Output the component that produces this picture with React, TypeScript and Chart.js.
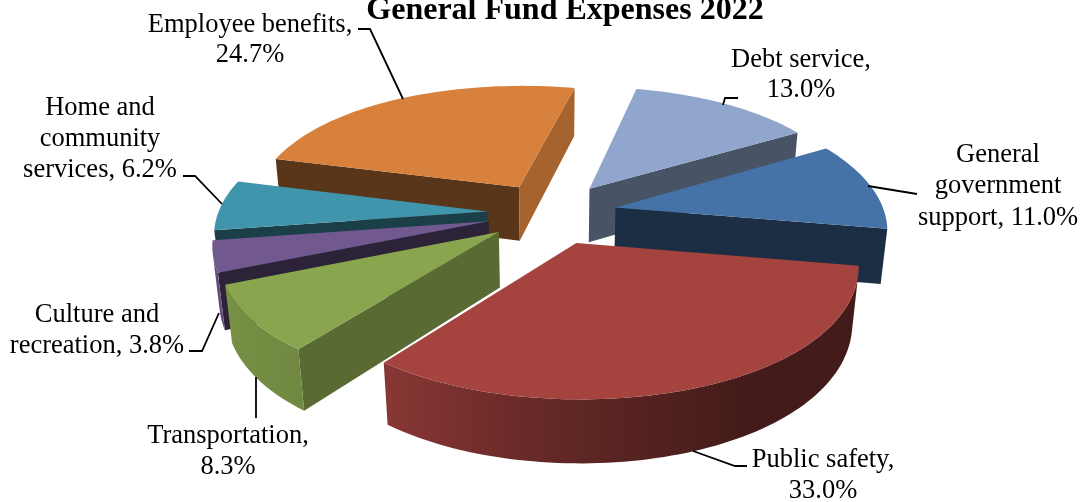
import React, { useEffect, useRef } from "react";
import { Chart, registerables } from "chart.js";

Chart.register(...registerables);

const chartTitle = "General Fund Expenses 2022";
const categories = [
  "Debt service",
  "General government support",
  "Public safety",
  "Transportation",
  "Culture and recreation",
  "Home and community services",
  "Employee benefits",
];
const shares = [13.0, 11.0, 33.0, 8.3, 3.8, 6.2, 24.7];
const sliceColors = ["#90A6CC", "#4572A7", "#A5433F", "#89A54E", "#71588F", "#4095AD", "#D8813C"];
// Brightness of the wall that runs along a slice's straight leading and trailing edges.
const startWallShade = [0.5, 0.4, 0.4, 0.65, 0.4, 0.42, 0.41];
const endWallShade = [0.5, 0.4, 0.4, 0.65, 0.4, 0.42, 0.77];
// Where each category's text breaks onto a new line.
const labelBreaks = [
  ["Debt service,"],
  ["General", "government", "support,"],
  ["Public safety,"],
  ["Transportation,"],
  ["Culture and", "recreation,"],
  ["Home and", "community", "services,"],
  ["Employee benefits,"],
];
const valueOnOwnLine = [true, false, true, true, false, false, true];

// Text anchor per label: centre x, centre y of the first line, line gap.
const labelAnchors = [
  [801, 60, 30.5],
  [998, 155, 31.5],
  [823, 460, 31],
  [228, 436, 31],
  [97, 315, 31],
  [100, 108, 31],
  [250, 25, 30.5],
];
const leaderLines = [
  [[723, 105], [725, 98], [738, 98]],
  [[868, 186], [917, 194]],
  [[693, 451], [735, 466], [747, 466]],
  [[256, 377], [256, 418]],
  [[219, 313], [202, 351], [189, 351]],
  [[222, 204], [195, 176], [183, 176]],
  [[403, 99], [370, 29], [358, 29]],
];

const FONT_FAMILY = '"Liberation Serif", "Times New Roman", serif';
const PLANE_RADIUS = 269;
const TILT = 0.478;
const VIEW_DISTANCE = 1800;
const TILT_FALLOFF = 1800;
const THICKNESS = 55.5;
const BASE_SHRINK = 0.02;

// Rim brightness by clockwise angle from 12 o'clock, in degrees.
const rimStops: [number, number][] = [
  [90, 0.4], [150, 0.41], [180, 0.57], [216, 0.82], [246, 0.88], [300, 0.7],
];

function rimShade(deg: number) {
  const d = ((deg % 360) + 360) % 360;
  if (d <= rimStops[0][0]) return rimStops[0][1];
  for (let i = 1; i < rimStops.length; i++) {
    if (d <= rimStops[i][0]) {
      const [a, sa] = rimStops[i - 1];
      const [b, sb] = rimStops[i];
      return sa + ((sb - sa) * (d - a)) / (b - a);
    }
  }
  return rimStops[rimStops.length - 1][1];
}

function shadeColor(hex: string, f: number) {
  const n = parseInt(hex.slice(1), 16);
  const c = [(n >> 16) & 255, (n >> 8) & 255, n & 255].map((x) => Math.round(x * f));
  return `rgb(${c[0]},${c[1]},${c[2]})`;
}

type Pt = [number, number];

const tiltedPie = {
  id: "tiltedPie",
  beforeDatasetDraw(chart: any, args: any) {
    const ctx: CanvasRenderingContext2D = chart.ctx;
    const arcs: any[] = args.meta.data;
    const project = (cx: number, cy: number, u: number, v: number, z: number): Pt => {
      const s = 1 / (1 + v / VIEW_DISTANCE + z * BASE_SHRINK);
      return [cx + u * s, cy - v * TILT * (1 - v / TILT_FALLOFF) + z * THICKNESS * Math.pow(s, 0.8)];
    };
    const fillPoly = (pts: Pt[], color: string | CanvasGradient) => {
      ctx.beginPath();
      pts.forEach((p, i) => (i ? ctx.lineTo(p[0], p[1]) : ctx.moveTo(p[0], p[1])));
      ctx.closePath();
      ctx.fillStyle = color;
      ctx.fill();
    };
    const signedArea = (q: Pt[]) => {
      let area = 0;
      q.forEach((p, i) => {
        const n = q[(i + 1) % q.length];
        area += p[0] * n[1] - n[0] * p[1];
      });
      return area;
    };

    // Back slices first, so that nearer slices cover them.
    const order = arcs
      .map((arc, i) => ({ arc, i, mid: (arc.startAngle + arc.endAngle) / 2 }))
      .sort((a, b) => Math.sin(a.mid) - Math.sin(b.mid));

    order.forEach(({ arc, i, mid }) => {
      const color = sliceColors[i];
      const off = arc.options.offset;
      const ax = Math.cos(mid) * off;
      const ay = -Math.sin(mid) * off;
      const rim = (a: number, z: number) =>
        project(arc.x, arc.y, ax + Math.cos(a) * PLANE_RADIUS, ay - Math.sin(a) * PLANE_RADIUS, z);
      const apex = (z: number) => project(arc.x, arc.y, ax, ay, z);

      // Straight walls along both radii: culled when turned away.
      const startWall: Pt[] = [apex(0), apex(1), rim(arc.startAngle, 1), rim(arc.startAngle, 0)];
      const endWall: Pt[] = [rim(arc.endAngle, 0), rim(arc.endAngle, 1), apex(1), apex(0)];
      if (signedArea(startWall) > 0) fillPoly(startWall, shadeColor(color, startWallShade[i]));
      if (signedArea(endWall) > 0) fillPoly(endWall, shadeColor(color, endWallShade[i]));

      // The visible stretch of the outer rim, shaded across its width.
      const steps = Math.max(2, Math.ceil(((arc.endAngle - arc.startAngle) * 180) / Math.PI / 1.5));
      const angleAt = (k: number) => arc.startAngle + ((arc.endAngle - arc.startAngle) * k) / steps;
      const visible: number[] = [];
      for (let k = 0; k <= steps; k++) {
        const strip: Pt[] = [rim(angleAt(k), 0), rim(angleAt(k + 1), 0), rim(angleAt(k + 1), 1), rim(angleAt(k), 1)];
        if (signedArea(strip) < 0 && k < steps) visible.push(k);
      }
      if (visible.length) {
        const ks = [...visible, visible[visible.length - 1] + 1];
        const topEdge = ks.map((k) => rim(angleAt(k), 0));
        const baseEdge = ks.map((k) => rim(angleAt(k), 1));
        const x0 = Math.min(...topEdge.map((p) => p[0]));
        const x1 = Math.max(...topEdge.map((p) => p[0]));
        const gradient = ctx.createLinearGradient(x0, 0, Math.max(x1, x0 + 1), 0);
        topEdge.forEach((p, n) => {
          const t = Math.min(1, Math.max(0, (p[0] - x0) / Math.max(x1 - x0, 1)));
          const deg = ((angleAt(ks[n]) + Math.PI / 2) * 180) / Math.PI;
          gradient.addColorStop(t, shadeColor(color, rimShade(deg)));
        });
        fillPoly([...topEdge, ...baseEdge.reverse()], gradient);
      }

      // Top face.
      const top: Pt[] = [apex(0)];
      for (let k = 0; k <= steps; k++) top.push(rim(angleAt(k), 0));
      fillPoly(top, color);
    });
    return false;
  },
  afterDraw(chart: any) {
    const ctx: CanvasRenderingContext2D = chart.ctx;
    ctx.save();
    ctx.textAlign = "center";
    ctx.textBaseline = "alphabetic";
    ctx.fillStyle = "#000";
    ctx.font = `bold 32px ${FONT_FAMILY}`;
    ctx.fillText(chartTitle, 565, 19);

    ctx.strokeStyle = "#000";
    ctx.lineWidth = 1.8;
    leaderLines.forEach((line) => {
      ctx.beginPath();
      line.forEach((p, i) => (i ? ctx.lineTo(p[0], p[1]) : ctx.moveTo(p[0], p[1])));
      ctx.stroke();
    });

    ctx.font = `26.5px ${FONT_FAMILY}`;
    ctx.textBaseline = "middle";
    categories.forEach((_, i) => {
      const value = `${shares[i].toFixed(1)}%`;
      const lines = [...labelBreaks[i]];
      if (valueOnOwnLine[i]) lines.push(value);
      else lines[lines.length - 1] += ` ${value}`;
      const [x, y, gap] = labelAnchors[i];
      lines.forEach((text, n) => ctx.fillText(text, x, y + n * gap));
    });
    ctx.restore();
  },
};

export default function App() {
  const ref = useRef<HTMLCanvasElement>(null);
  useEffect(() => {
    const chart = new Chart(ref.current!, {
      type: "pie",
      data: {
        labels: categories,
        datasets: [{ data: shares, backgroundColor: sliceColors, offset: 65, borderWidth: 0 }],
      },
      options: {
        responsive: false,
        animation: false,
        rotation: 13,
        layout: { padding: { left: 20, bottom: 76 } },
        plugins: { legend: { display: false }, tooltip: { enabled: false }, title: { display: false } },
      },
      plugins: [tiltedPie],
    } as any);
    return () => chart.destroy();
  }, []);
  return (
    <div style={{ position: "absolute", left: 0, top: 0, width: 1084, height: 502, overflow: "hidden", background: "#fff" }}>
      <canvas ref={ref} width={1084} height={502} style={{ display: "block" }} />
    </div>
  );
}
